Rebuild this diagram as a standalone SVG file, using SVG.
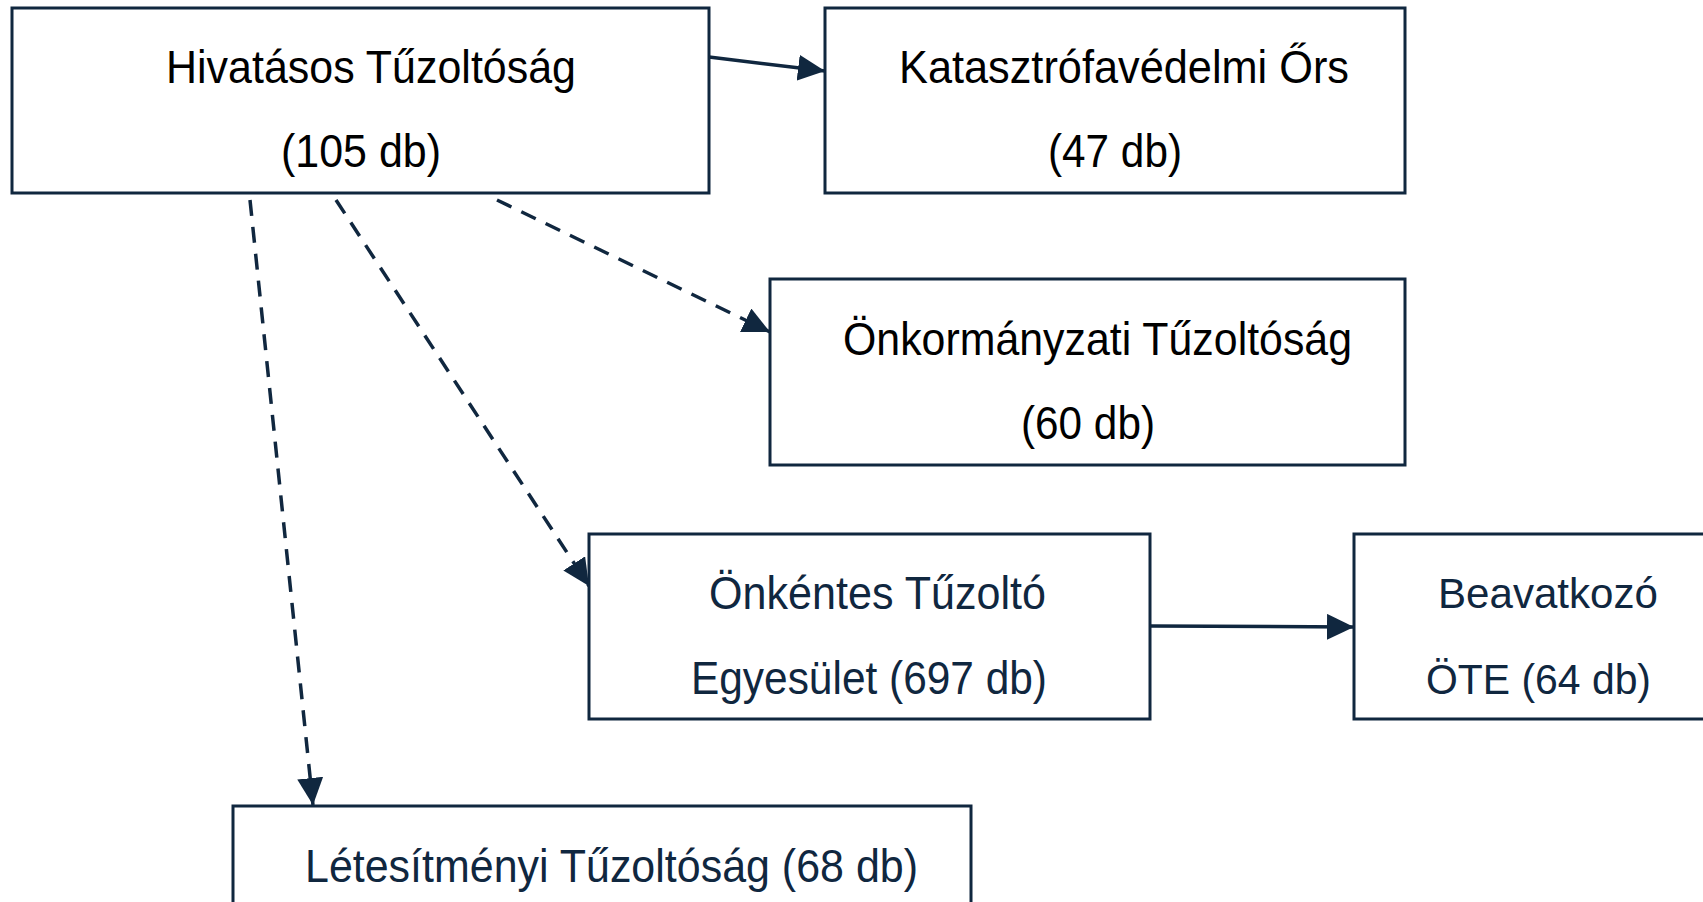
<svg xmlns="http://www.w3.org/2000/svg" width="1703" height="902" viewBox="0 0 1703 902">
<style>
.box{fill:#fff;stroke:#10273f;stroke-width:3}
.t{font-family:"Liberation Sans",Arial,sans-serif;font-size:46px;fill:#000}
.n{fill:#10273f}
.r{font-family:"Liberation Sans",Arial,sans-serif;font-size:42px;fill:#10273f}
.c{fill:none;stroke:#10273f;stroke-width:3.5}
.d{stroke-dasharray:16 11}
</style>
<defs>
<marker id="ah" markerUnits="userSpaceOnUse" markerWidth="27" markerHeight="26" refX="27" refY="13" orient="auto" viewBox="0 0 27 26">
<path d="M0,0 L27,13 L0,26 z" fill="#10273f"/>
</marker>
</defs>
<rect width="1703" height="902" fill="#fff"/>
<g id="connectors">
<line class="c" x1="709" y1="57" x2="825" y2="71" marker-end="url(#ah)"/>
<line class="c d" x1="497" y1="200" x2="770" y2="332" marker-end="url(#ah)"/>
<line class="c d" x1="336" y1="200" x2="589" y2="586" marker-end="url(#ah)"/>
<line class="c d" x1="250" y1="200" x2="313" y2="805" marker-end="url(#ah)"/>
<line class="c" x1="1150" y1="626" x2="1354" y2="627" marker-end="url(#ah)"/>
</g>
<g id="hivatasos">
<rect class="box" x="12" y="8" width="697" height="185"/>
<text class="t" x="166" y="83" textLength="410" lengthAdjust="spacingAndGlyphs">Hivatásos Tűzoltóság</text>
<text class="t" x="281" y="167" textLength="160" lengthAdjust="spacingAndGlyphs">(105 db)</text>
</g>
<g id="katasztrofa">
<rect class="box" x="825" y="8" width="580" height="185"/>
<text class="t" x="899" y="83" textLength="450" lengthAdjust="spacingAndGlyphs">Katasztrófavédelmi Őrs</text>
<text class="t" x="1048" y="167" textLength="134" lengthAdjust="spacingAndGlyphs">(47 db)</text>
</g>
<g id="onkormanyzati">
<rect class="box" x="770" y="279" width="635" height="186"/>
<text class="t" x="843" y="355" textLength="509" lengthAdjust="spacingAndGlyphs">Önkormányzati Tűzoltóság</text>
<text class="t" x="1021" y="439" textLength="134" lengthAdjust="spacingAndGlyphs">(60 db)</text>
</g>
<g id="onkentes">
<rect class="box" x="589" y="534" width="561" height="185"/>
<text class="t n" x="709" y="609" textLength="337" lengthAdjust="spacingAndGlyphs">Önkéntes Tűzoltó</text>
<text class="t n" x="691" y="694" textLength="356" lengthAdjust="spacingAndGlyphs">Egyesület (697 db)</text>
</g>
<g id="beavatkozo">
<rect class="box" x="1354" y="534" width="400" height="185"/>
<text class="r" x="1438" y="608" textLength="220" lengthAdjust="spacingAndGlyphs">Beavatkozó</text>
<text class="r" x="1426" y="694" textLength="225" lengthAdjust="spacingAndGlyphs">ÖTE (64 db)</text>
</g>
<g id="letesitmenyi">
<rect class="box" x="233" y="806" width="738" height="185"/>
<text class="t n" x="305" y="882" textLength="613" lengthAdjust="spacingAndGlyphs">Létesítményi Tűzoltóság (68 db)</text>
</g>
</svg>
